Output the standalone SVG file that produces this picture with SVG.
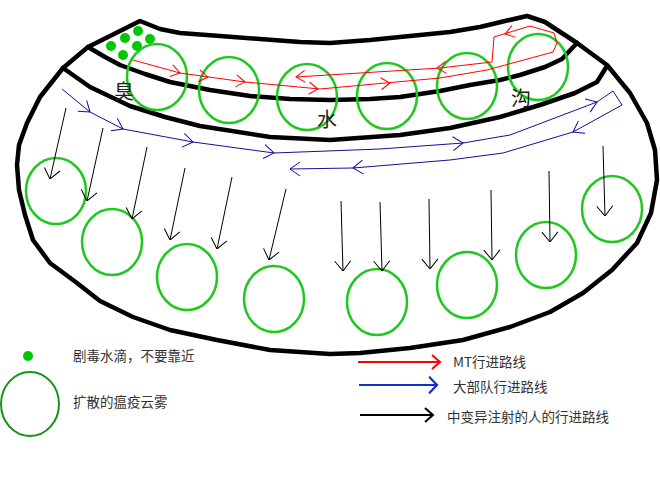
<svg xmlns="http://www.w3.org/2000/svg" xmlns:xlink="http://www.w3.org/1999/xlink" width="660" height="500" viewBox="0 0 660 500">
<style>
.wall{fill:none;stroke:#000;stroke-width:4.5;stroke-linejoin:round;stroke-linecap:round}
.cloud{fill:none;stroke:#1ec81e;stroke-width:2.5}
.drop{fill:#00c800}
.red{fill:none;stroke:#ff0000;stroke-width:1}
.blue{fill:none;stroke:#10109c;stroke-width:1}
.blk{fill:none;stroke:#000;stroke-width:1;marker-end:url(#ak)}
.lbl{font-family:'Noto Sans CJK SC','Liberation Sans',sans-serif;font-size:20px;fill:#222}
.leg{font-family:'Noto Sans CJK SC','Liberation Sans',sans-serif;font-size:13.5px;fill:#333}
</style>
<defs>
<marker id="ak" viewBox="0 0 12 18" refX="12" refY="9" markerWidth="12" markerHeight="18" markerUnits="userSpaceOnUse" orient="auto">
<path d="M2,1 L12,9 L2,17" fill="none" stroke="#000" stroke-width="1"/>
</marker>
<path id="chr" d="M-9,-6 L0,0 L-9,6" fill="none"/>
<path id="chb" d="M-10,-7 L0,0 L-10,7" fill="none"/>
<path id="chl" d="M-8,-7 L0,0 L-8,7" fill="none"/>
</defs>

<g id="walls">
<path class="wall" d="M140,21 L160,29 L180,33 L220,36 L260,39 L300,42 L330,43 L370,40 L410,36 L450,32 L480,27 L505,21 L527,16 L545,22 L577,43 L607,65 L630,93 L647,123 L655,150 L657,180 L651,213 L637,243 L612,270 L583,293 L550,312 L510,327 L463,340 L410,348 L360,353 L330,354 L270,350 L217,340 L170,330 L133,317 L100,301 L77,283 L50,263 L33,240 L25,215 L19,190 L17,165 L19,145 L27,123 L40,97 L63,68 L88,47 Z"/>
<path class="wall" d="M88,47 L105,57 L120,65 L145,74 L170,82 L210,90 L250,96 L290,99 L330,100 L370,99 L400,97 L440,91 L470,85 L500,80 L520,75 L545,67 L562,59 L577,43"/>
<path class="wall" d="M63,68 L90,87 L130,106 L165,117 L200,126 L270,137 L330,140 L400,135 L450,128 L500,117 L540,105 L575,93 L597,82 L607,66"/>
</g>

<g id="drops">
<circle class="drop" cx="111" cy="46" r="5"/>
<circle class="drop" cx="125" cy="38" r="5"/>
<circle class="drop" cx="138" cy="31" r="5"/>
<circle class="drop" cx="150" cy="39" r="5"/>
<circle class="drop" cx="137" cy="46" r="5"/>
<circle class="drop" cx="123" cy="55" r="5"/>
</g>

<g id="clouds-top">
<ellipse class="cloud" cx="157" cy="77" rx="30" ry="33"/>
<ellipse class="cloud" cx="229" cy="90" rx="30" ry="33"/>
<ellipse class="cloud" cx="307" cy="97" rx="30" ry="33"/>
<ellipse class="cloud" cx="387" cy="96" rx="30" ry="33"/>
<ellipse class="cloud" cx="467" cy="86" rx="30" ry="33"/>
<ellipse class="cloud" cx="538" cy="67" rx="30" ry="33"/>
</g>

<g id="clouds-bottom">
<ellipse class="cloud" cx="56" cy="191" rx="30" ry="33"/>
<ellipse class="cloud" cx="112" cy="242" rx="30" ry="33"/>
<ellipse class="cloud" cx="187" cy="277" rx="30" ry="33"/>
<ellipse class="cloud" cx="274" cy="299" rx="30" ry="33"/>
<ellipse class="cloud" cx="377" cy="302" rx="30" ry="33"/>
<ellipse class="cloud" cx="467" cy="285" rx="30" ry="33"/>
<ellipse class="cloud" cx="546" cy="255" rx="30" ry="33"/>
<ellipse class="cloud" cx="612" cy="209" rx="30" ry="33"/>
</g>

<g id="labels">
<text class="lbl" x="114" y="99">臭</text>
<text class="lbl" x="317" y="127">水</text>
<text class="lbl" x="511" y="106">沟</text>
</g>

<g id="connectors">
<g id="mt-route">
<path class="red" d="M133,60 L180,73 L245,82 L320,89 L440,78 L487,70 L553,52 L557,43 L554,33 L530,26 L494,37 L492,62 L440,68 L296,77"/>
<g stroke="#ff0000">
<use xlink:href="#chr" transform="translate(180,73) rotate(15)"/>
<use xlink:href="#chr" transform="translate(208,77) rotate(8)"/>
<use xlink:href="#chr" transform="translate(245,82) rotate(7)"/>
<use xlink:href="#chr" transform="translate(318,89) rotate(5)"/>
<use xlink:href="#chr" transform="translate(390,83) rotate(-5)"/>
<use xlink:href="#chr" transform="translate(505,34) rotate(163)"/>
<use xlink:href="#chr" transform="translate(437,68) rotate(176)"/>
<use xlink:href="#chr" transform="translate(296,77) rotate(176)"/>
</g>
</g>
<g id="army-route">
<path class="blue" d="M62,89 L90,112 L123,129 L193,142 L274,153 L380,149 L463,143 L510,135 L597,102 L613,91 L622,105 L573,132 L503,153 L450,160 L353,168 L290,169"/>
<g stroke="#10109c">
<use xlink:href="#chb" transform="translate(90,112) rotate(39)"/>
<use xlink:href="#chb" transform="translate(123,129) rotate(27)"/>
<use xlink:href="#chb" transform="translate(193,142) rotate(10)"/>
<use xlink:href="#chb" transform="translate(274,153) rotate(8)"/>
<use xlink:href="#chb" transform="translate(463,143) rotate(-4)"/>
<use xlink:href="#chb" transform="translate(597,102) rotate(-21)"/>
<use xlink:href="#chb" transform="translate(573,132) rotate(151)"/>
<use xlink:href="#chb" transform="translate(353,168) rotate(175)"/>
<use xlink:href="#chb" transform="translate(290,169) rotate(180)"/>
</g>
</g>
<g id="mutant-routes">
<line class="blk" x1="66" y1="108" x2="50" y2="179"/>
<line class="blk" x1="103" y1="128" x2="87" y2="201"/>
<line class="blk" x1="147" y1="147" x2="132" y2="219"/>
<line class="blk" x1="185" y1="168" x2="170" y2="240"/>
<line class="blk" x1="232" y1="177" x2="217" y2="249"/>
<line class="blk" x1="286" y1="189" x2="269" y2="260"/>
<line class="blk" x1="341" y1="201" x2="343" y2="271"/>
<line class="blk" x1="380" y1="202" x2="382" y2="271"/>
<line class="blk" x1="429" y1="199" x2="430" y2="269"/>
<line class="blk" x1="491" y1="190" x2="492" y2="260"/>
<line class="blk" x1="549" y1="171" x2="550" y2="242"/>
<line class="blk" x1="603" y1="146" x2="605" y2="216"/>
</g>
</g>

<g id="legend">
<g id="leg-drop">
<circle class="drop" cx="28" cy="356" r="5"/>
<text class="leg" x="73" y="361">剧毒水滴，不要靠近</text>
</g>
<g id="leg-cloud">
<ellipse cx="30" cy="404" rx="29" ry="32" fill="none" stroke="#129412" stroke-width="2"/>
<text class="leg" x="73" y="407">扩散的瘟疫云雾</text>
</g>
<g id="leg-red">
<line x1="358" y1="362" x2="439" y2="362" stroke="#ff0000" stroke-width="2"/>
<use xlink:href="#chl" transform="translate(440,362)" stroke="#ff0000" stroke-width="2"/>
<text class="leg" x="453" y="367">MT行进路线</text>
</g>
<g id="leg-blue">
<line x1="359" y1="385" x2="436" y2="385" stroke="#1030d0" stroke-width="2"/>
<use xlink:href="#chl" transform="translate(437,385) scale(1,1.2)" stroke="#1030d0" stroke-width="2"/>
<text class="leg" x="453" y="392">大部队行进路线</text>
</g>
<g id="leg-black">
<line x1="360" y1="415" x2="432" y2="415" stroke="#000" stroke-width="2"/>
<use xlink:href="#chl" transform="translate(433,415)" stroke="#000" stroke-width="2"/>
<text class="leg" x="447" y="422">中变异注射的人的行进路线</text>
</g>
</g>
</svg>
